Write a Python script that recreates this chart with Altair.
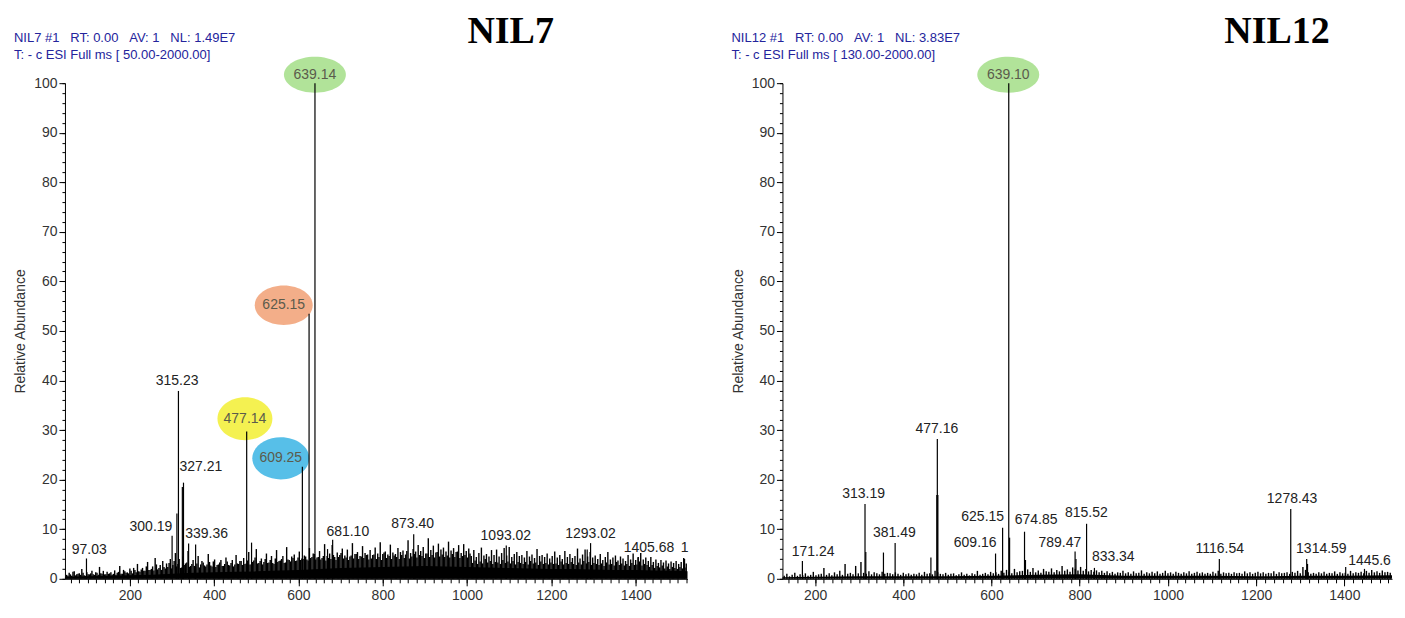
import altair as alt
import pandas as pd

# ---------------- data ----------------
# NIL7 spectrum: dense background, one value every 6 m/z starting at 50
nil7_noise_start, nil7_noise_step = 50, 6
nil7_noise = [
    0.8, 1.2, 0.6, 1.5, 0.9, 1.1, 2.0, 0.7, 1.3, 0.9,
    1.6, 0.8, 1.2, 2.4, 1.0, 0.9, 1.4, 1.1, 0.8, 1.7,
    1.2, 2.6, 1.0, 1.5, 1.3, 2.1, 1.1, 1.8, 3.0, 1.4,
    2.2, 1.6, 3.4, 1.8, 2.5, 4.2, 1.9, 2.8, 3.6, 2.1,
    2.4, 4.0, 2.8, 5.2, 3.0, 2.2, 4.5, 3.1, 5.6, 2.6,
    3.8, 2.4, 4.6, 2.9, 3.3, 2.5, 5.0, 2.7, 3.5, 2.4,
    2.9, 3.8, 2.6, 4.3, 2.8, 3.2, 2.5, 4.8, 3.0, 3.6,
    4.2, 3.1, 5.4, 2.9, 3.7, 6.0, 3.2, 4.1, 3.4, 5.1,
    3.3, 4.6, 3.0, 5.8, 3.6, 4.0, 3.2, 6.4, 3.8, 4.5,
    4.9, 3.7, 5.5, 4.1, 4.7, 3.9, 6.2, 4.4, 5.0, 4.3,
    5.6, 4.2, 7.0, 4.6, 5.1, 6.8, 4.4, 5.3, 4.8, 6.1,
    4.7, 5.9, 4.5, 7.2, 5.0, 5.4, 4.6, 6.6, 5.2, 4.9,
    5.8, 4.8, 6.3, 5.1, 7.4, 5.0, 5.5, 4.9, 6.9, 5.3,
    5.0, 6.2, 5.4, 5.7, 4.9, 7.8, 5.2, 6.0, 5.5, 6.8,
    5.6, 6.4, 5.1, 8.2, 5.8, 6.7, 5.3, 7.1, 5.9, 6.3,
    5.5, 7.5, 5.7, 6.2, 5.4, 6.8, 5.2, 7.0, 5.6, 6.1,
    4.6, 5.8, 4.4, 5.2, 6.3, 4.7, 5.0, 4.5, 5.8, 4.8,
    5.9, 4.5, 5.2, 6.2, 4.7, 6.4, 4.4, 5.0, 5.4, 4.6,
    4.8, 4.3, 5.6, 4.5, 4.9, 4.2, 6.0, 4.6, 4.8, 4.4,
    5.1, 4.1, 4.6, 5.5, 4.3, 4.8, 4.0, 5.6, 4.4, 5.0,
    4.2, 4.6, 6.1, 4.1, 4.9, 5.9, 4.5, 5.4, 4.3, 4.7,
    4.0, 5.0, 3.8, 4.4, 5.4, 3.9, 4.3, 4.7, 3.7, 4.5,
    4.1, 3.6, 4.8, 3.9, 5.1, 3.8, 4.4, 5.2, 3.9, 4.3,
    3.6, 4.4, 3.4, 3.9, 3.2, 3.8, 3.3, 3.7, 3.1, 3.5,
    3.2, 3.6, 3.0, 3.4, 4.2, 3.1,
]
# second, interleaved background series (every 6 m/z starting at 53)
nil7_noise2_start = 53
nil7_noise2 = [
    0.6, 0.9, 1.4, 0.7, 1.0, 0.8, 1.2, 0.6, 0.9, 1.1,
    0.9, 1.3, 0.8, 1.1, 1.6, 0.9, 1.0, 1.3, 1.0, 0.8,
    1.4, 1.0, 1.8, 1.2, 1.1, 1.6, 2.2, 1.3, 1.5, 1.9,
    1.6, 2.5, 1.8, 2.0, 1.7, 2.9, 2.2, 1.8, 2.4, 3.1,
    3.2, 2.1, 3.6, 2.5, 4.0, 2.3, 2.8, 3.3, 2.4, 3.0,
    2.6, 3.1, 2.3, 3.6, 2.7, 2.9, 3.4, 2.5, 3.9, 2.8,
    3.3, 2.6, 3.0, 3.5, 2.7, 3.8, 2.9, 3.1, 3.6, 2.8,
    3.0, 3.7, 2.9, 3.4, 4.3, 3.1, 3.6, 2.9, 4.0, 3.2,
    3.8, 3.2, 4.1, 3.4, 3.7, 4.6, 3.3, 3.9, 3.5, 4.2,
    3.6, 4.3, 3.8, 4.0, 4.5, 3.7, 4.2, 5.1, 3.9, 4.4,
    3.9, 4.6, 3.7, 4.2, 4.0, 4.8, 3.8, 4.4, 5.2, 4.1,
    4.3, 3.8, 4.7, 4.1, 5.0, 4.0, 4.5, 4.2, 4.8, 3.9,
    4.1, 4.9, 4.0, 4.4, 3.8, 5.3, 4.2, 4.6, 4.0, 4.7,
    4.4, 4.0, 4.8, 4.2, 5.6, 4.1, 4.5, 5.0, 4.3, 4.8,
    4.6, 4.2, 5.1, 4.4, 4.8, 4.3, 5.4, 4.5, 4.9, 4.4,
    4.7, 4.3, 5.0, 4.4, 5.5, 4.2, 4.6, 4.8, 4.3, 5.1,
    3.2, 3.7, 3.0, 3.5, 3.1, 4.0, 3.3, 3.6, 3.0, 3.4,
    3.3, 3.0, 3.8, 3.2, 3.5, 3.1, 3.6, 2.9, 3.4, 3.2,
    3.0, 3.4, 2.9, 3.6, 3.1, 3.3, 2.8, 3.5, 3.0, 3.2,
    2.9, 3.3, 3.0, 3.1, 2.8, 3.5, 2.9, 3.2, 3.0, 3.4,
    3.0, 2.8, 3.3, 2.9, 3.6, 3.1, 3.4, 2.8, 3.2, 3.0,
    2.8, 3.1, 2.6, 3.3, 2.9, 3.0, 2.7, 3.4, 2.8, 3.1,
    2.7, 3.0, 2.6, 3.2, 2.8, 2.9, 3.5, 2.7, 3.0, 2.8,
    2.4, 2.8, 2.2, 2.6, 2.3, 2.7, 2.1, 2.5, 2.0, 2.4,
    2.2, 2.0, 2.4, 2.1, 2.3,
]
nil7_floor_mz = [46, 100, 150, 200, 250, 300, 350, 400, 450, 500, 550, 600, 650, 700, 750,
                 800, 850, 900, 950, 1000, 1050, 1100, 1150, 1200, 1250, 1300, 1350, 1400,
                 1450, 1500, 1523]
nil7_floor = [0.4, 0.5, 0.6, 0.7, 0.8, 1.0, 1.2, 1.3, 1.4, 1.5, 1.7, 1.8, 2.0, 2.2, 2.3,
              2.4, 2.5, 2.6, 2.5, 2.4, 2.3, 2.2, 2.1, 2.0, 2.0, 1.9, 1.8, 1.8, 1.7, 1.6, 1.5]
nil7_peak_mz = [97.03, 300.19, 311.6, 315.23, 324.5, 327.21, 339.36, 356.0, 477.14, 488.7,
                609.25, 625.15, 639.14, 669.0, 681.10, 873.40, 1093.02, 1285.0, 1293.02,
                1405.68, 1516.0]
nil7_peak_int = [4.1, 8.7, 13.2, 37.9, 18.5, 19.4, 7.1, 6.9, 29.7, 7.3,
                 22.6, 53.5, 100.0, 6.0, 7.9, 9.0, 6.7, 5.9, 7.2,
                 4.3, 4.0]
nil7_lab_text = ["97.03", "300.19", "315.23", "327.21", "339.36", "681.10", "873.40",
                 "1093.02", "1293.02", "1405.68", "1"]
nil7_lab_mz = [103.6, 250, 312, 368.5, 382, 717, 871, 1092, 1293, 1431.6, 1516]
nil7_lab_int = [5.8, 10.5, 39.9, 22.6, 9.1, 9.5, 11.0, 8.7, 9.0, 6.3, 6.3]
nil7_hl_text = ["639.14", "625.15", "477.14", "609.25"]
nil7_hl_mz = [639, 565, 473, 558]
nil7_hl_int = [101.7, 55.2, 32.3, 24.3]

# NIL12 spectrum: background one value every 6 m/z starting at 130
nil12_noise_start, nil12_noise_step = 130, 6
nil12_noise = [
    0.6, 1.0, 0.5, 0.8, 1.2, 0.6, 0.9, 0.7, 1.1, 0.6,
    0.8, 1.4, 0.7, 0.9, 1.0, 2.2, 0.8, 1.1, 0.7, 1.3,
    0.9, 1.6, 0.8, 3.0, 1.0, 1.2, 0.9, 2.6, 1.1, 3.4,
    1.2, 1.0, 1.5, 0.9, 1.3, 1.1, 0.9, 1.4, 1.0, 1.2,
    1.1, 0.9, 1.3, 1.0, 0.8, 1.2, 0.9, 1.1, 0.8, 1.0,
    0.9, 1.2, 0.8, 1.4, 1.0, 1.1, 0.9, 1.6, 1.3, 1.0,
    0.9, 1.2, 0.8, 1.0, 1.1, 0.7, 0.9, 1.3, 0.8, 1.0,
    0.7, 1.1, 0.9, 1.6, 0.8, 1.0, 1.2, 0.9, 1.4, 1.1,
    1.3, 1.0, 1.6, 1.2, 1.8, 1.4, 1.1, 2.0, 1.3, 1.5,
    1.6, 1.2, 1.9, 1.4, 2.2, 1.3, 1.7, 1.2, 2.0, 1.5,
    1.4, 2.1, 1.3, 1.8, 1.5, 2.6, 1.6, 1.9, 1.4, 2.3,
    2.0, 1.7, 2.4, 1.6, 2.0, 1.5, 1.8, 1.4, 1.7, 1.3,
    1.6, 1.2, 1.5, 1.1, 1.4, 1.0, 1.3, 1.2, 1.6, 1.1,
    1.3, 1.0, 1.5, 1.1, 1.2, 1.7, 1.0, 1.3, 1.1, 1.4,
    1.1, 1.5, 1.0, 1.2, 1.6, 1.1, 1.3, 1.0, 1.4, 1.2,
    1.0, 1.3, 1.1, 1.5, 1.0, 1.2, 1.4, 1.1, 1.3, 1.0,
    1.2, 1.0, 1.4, 1.1, 1.6, 1.0, 1.3, 1.1, 1.2, 1.0,
    1.3, 1.1, 1.2, 1.0, 1.5, 1.1, 1.3, 1.0, 1.2, 1.4,
    1.1, 1.3, 1.0, 1.2, 1.1, 1.5, 1.0, 1.3, 1.1, 1.2,
    1.3, 1.0, 1.4, 1.2, 1.6, 1.1, 2.4, 1.8, 1.3, 1.0,
    1.2, 1.0, 1.3, 1.1, 1.4, 1.0, 1.2, 1.1, 1.5, 1.0,
    1.3, 1.1, 1.2, 1.0, 1.6, 1.1, 1.3, 1.2, 1.4, 1.1,
    1.6, 1.2, 1.8, 1.3, 1.5, 1.2, 1.7, 1.3, 1.4, 1.2,
]
nil12_noise2_start = 133
nil12_noise2 = []
nil12_floor_mz = [126, 200, 300, 400, 500, 600, 700, 800, 900, 1000, 1100, 1200, 1300, 1400, 1508]
nil12_floor = [0.3, 0.4, 0.5, 0.5, 0.5, 0.6, 0.8, 0.9, 0.6, 0.6, 0.6, 0.5, 0.6, 0.6, 0.7]
nil12_peak_mz = [171.24, 313.19, 315.0, 355.0, 381.49, 462.6, 476.0, 477.16, 478.4, 609.16,
                 625.15, 639.10, 641.0, 674.85, 677.0, 789.47, 791.5, 815.52, 833.34,
                 1116.54, 1278.43, 1314.59, 1316.5, 1403.0, 1445.6]
nil12_peak_int = [3.6, 15.1, 5.4, 5.3, 7.2, 4.3, 16.9, 28.2, 16.9, 5.1,
                  10.3, 100.0, 8.3, 9.5, 3.8, 5.5, 4.0, 11.1, 2.2,
                  4.0, 14.1, 4.0, 3.0, 2.4, 2.0]
nil12_lab_text = ["171.24", "313.19", "381.49", "477.16", "625.15", "609.16", "674.85",
                  "789.47", "815.52", "833.34", "1116.54", "1278.43", "1314.59", "1445.6"]
nil12_lab_mz = [195.5, 310, 379.6, 476, 580, 563, 701, 755, 815, 876, 1117.6, 1281.5, 1347.8, 1457]
nil12_lab_int = [5.5, 17.1, 9.2, 30.2, 12.4, 7.3, 11.9, 7.3, 13.2, 4.4, 6.0, 16.1, 6.0, 3.6]
nil12_hl_text = ["639.10"]
nil12_hl_mz = [638]
nil12_hl_int = [101.7]

x_major = [200, 400, 600, 800, 1000, 1200, 1400]
y_major = [0, 10, 20, 30, 40, 50, 60, 70, 80, 90, 100]

SP = "\u00a0"
nil7_header = [f"NIL7 #1{SP*3}RT: 0.00{SP*3}AV: 1{SP*3}NL: 1.49E7",
               f"T: - c ESI Full ms [ 50.00-2000.00]"]
nil12_header = [f"NIL12 #1{SP*3}RT: 0.00{SP*3}AV: 1{SP*3}NL: 3.83E7",
                f"T: - c ESI Full ms [ 130.00-2000.00]"]

# ---------------- styles ----------------
FONT = "Liberation Sans"
HL_STYLE = {
    "639": ("#a8e08e", 62, 0.58),
    "625": ("#f2a57c", 58, 0.68),
    "477": ("#f3f03e", 55, 0.78),
    "609": ("#45b8e6", 57, 0.74),
}


def ellipse_path(r):
    return f"M -1 0 A 1 {r} 0 1 0 1 0 A 1 {r} 0 1 0 -1 0 Z"


def panel(noise_start, noise_step, noise, noise2_start, noise2, floor_mz, floor,
          peak_mz, peak_int, lab_text, lab_mz, lab_int, hl_text, hl_mz, hl_int,
          domain, width, height, header, title, title_x):
    xs = alt.Scale(domain=domain, nice=False, zero=False)
    ys = alt.Scale(domain=[0, 100], nice=False, zero=False)
    minor_x = [v for v in range(20, 1540, 20) if domain[0] <= v <= domain[1]]

    ax_major = alt.Axis(values=x_major, format="d", tickSize=7, tickColor="black",
                        domainColor="black", labelFontSize=14, labelColor="#333",
                        labelFont=FONT, labelPadding=3, grid=False, title=None,
                        orient="bottom", labelFlush=False)
    ay_major = alt.Axis(values=y_major, format="d", tickSize=6, tickColor="black",
                        domainColor="black", labelFontSize=14, labelColor="#333",
                        labelFont=FONT, labelPadding=2, grid=False,
                        title="Relative Abundance", titleFont=FONT, titleFontSize=14,
                        titleFontWeight="normal", titleColor="#333", titlePadding=6,
                        orient="left")
    ax_minor = alt.Axis(values=minor_x, tickSize=4, tickColor="black", labels=False,
                        domain=False, grid=False, title=None, orient="bottom")
    ay_minor = alt.Axis(values=list(range(0, 101, 2)), tickSize=3, tickColor="black",
                        labels=False, domain=False, grid=False, title=None, orient="left")

    noise_df = pd.DataFrame({
        "mz": [noise_start + i * noise_step for i in range(len(noise))]
        + [noise2_start + i * noise_step for i in range(len(noise2))],
        "int": noise + noise2})
    floor_df = pd.DataFrame({"mz": floor_mz, "int": floor})
    peak_df = pd.DataFrame({"mz": peak_mz, "int": peak_int})
    lab_df = pd.DataFrame({"mz": lab_mz, "int": lab_int, "t": lab_text})

    floor_layer = alt.Chart(floor_df).mark_area(color="black", interpolate="linear").encode(
        x=alt.X("mz:Q", scale=xs, axis=ax_major),
        y=alt.Y("int:Q", scale=ys, axis=ay_major),
    )
    noise_layer = alt.Chart(noise_df).mark_rule(color="black", strokeWidth=1.4).encode(
        x=alt.X("mz:Q", scale=xs, axis=ax_minor),
        y=alt.Y("int:Q", scale=ys, axis=ay_minor),
        y2=alt.datum(0),
    )
    layers = [floor_layer, noise_layer]

    for t, m, v in zip(hl_text, hl_mz, hl_int):
        col, w, r = HL_STYLE[t[:3]]
        d = pd.DataFrame({"mz": [m], "int": [v], "t": [t]})
        layers.append(alt.Chart(d).mark_point(
            shape=ellipse_path(r), size=w * w, filled=True, color=col, opacity=0.9,
            strokeWidth=0).encode(
            x=alt.X("mz:Q", scale=xs, axis=None), y=alt.Y("int:Q", scale=ys, axis=None)))

    layers.append(alt.Chart(peak_df).mark_rule(color="black", strokeWidth=1.2).encode(
        x=alt.X("mz:Q", scale=xs, axis=None),
        y=alt.Y("int:Q", scale=ys, axis=None),
        y2=alt.datum(0),
    ))
    layers.append(alt.Chart(lab_df).mark_text(font=FONT, fontSize=14, color="#222",
                                              baseline="middle", align="center").encode(
        x=alt.X("mz:Q", scale=xs, axis=None),
        y=alt.Y("int:Q", scale=ys, axis=None),
        text="t:N",
    ))
    hl_df = pd.DataFrame({"mz": hl_mz, "int": hl_int, "t": hl_text})
    layers.append(alt.Chart(hl_df).mark_text(font=FONT, fontSize=14, color="#5b5b4c",
                                             baseline="middle", align="center").encode(
        x=alt.X("mz:Q", scale=xs, axis=None),
        y=alt.Y("int:Q", scale=ys, axis=None),
        text="t:N",
    ))

    layers.append(alt.Chart(pd.DataFrame({"t": [header[0]]})).mark_text(
        font=FONT, fontSize=13, color="#24249c", align="left", baseline="alphabetic").encode(
        x=alt.value(-51), y=alt.value(-41), text="t:N"))
    layers.append(alt.Chart(pd.DataFrame({"t": [header[1]]})).mark_text(
        font=FONT, fontSize=13, color="#24249c", align="left", baseline="alphabetic").encode(
        x=alt.value(-51), y=alt.value(-24), text="t:N"))
    layers.append(alt.Chart(pd.DataFrame({"t": [title]})).mark_text(
        font="Liberation Serif", fontSize=38, fontWeight="bold", color="black",
        align="center", baseline="alphabetic").encode(
        x=alt.value(title_x), y=alt.value(-40), text="t:N"))

    return alt.layer(*layers).resolve_axis(x="independent", y="independent").properties(
        width=width, height=height)


left = panel(nil7_noise_start, nil7_noise_step, nil7_noise, nil7_noise2_start, nil7_noise2,
             nil7_floor_mz, nil7_floor,
             nil7_peak_mz, nil7_peak_int, nil7_lab_text, nil7_lab_mz, nil7_lab_int,
             nil7_hl_text, nil7_hl_mz, nil7_hl_int,
             [46, 1523], 623, 496, nil7_header, "NIL7", 446)
right = panel(nil12_noise_start, nil12_noise_step, nil12_noise, nil12_noise2_start, nil12_noise2,
              nil12_floor_mz, nil12_floor,
              nil12_peak_mz, nil12_peak_int, nil12_lab_text, nil12_lab_mz, nil12_lab_int,
              nil12_hl_text, nil12_hl_mz, nil12_hl_int,
              [126, 1508], 610, 496, nil12_header, "NIL12", 495)

chart = alt.hconcat(left, right, spacing=42).configure_view(stroke=None)
chart.save("out.html", embed_options={"renderer": "svg", "actions": False})
